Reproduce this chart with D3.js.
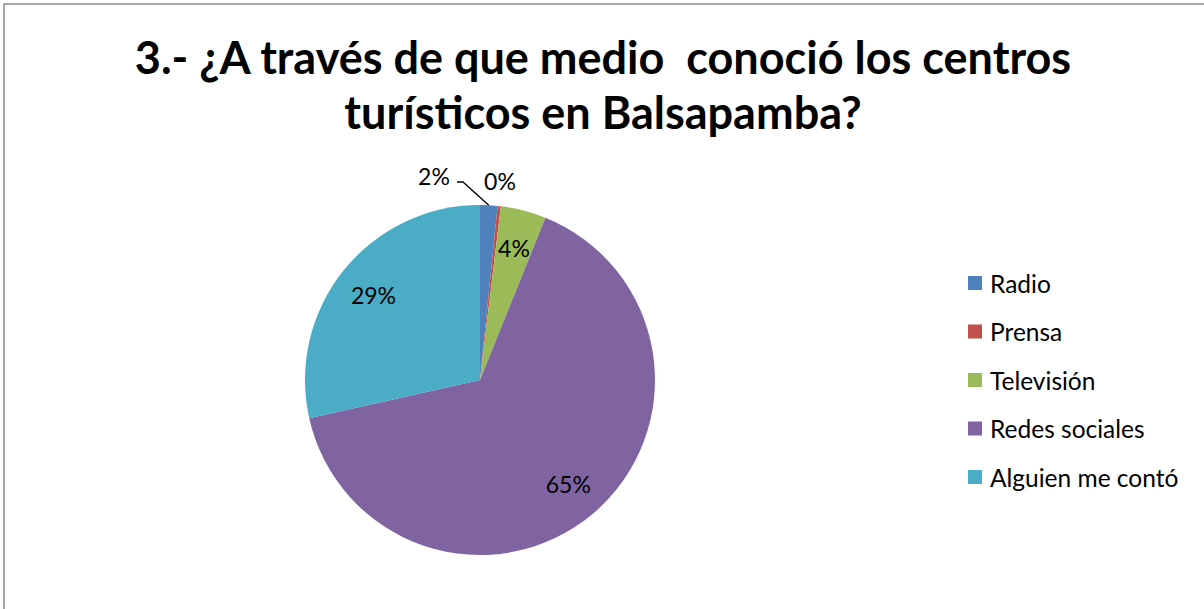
<!DOCTYPE html>
<html>
<head>
<meta charset="utf-8">
<script src="https://cdn.jsdelivr.net/npm/d3@7"></script>
<style>
  html, body { margin: 0; padding: 0; background: #fff; }
  svg { display: block; }
  text { font-family: Lato, "Open Sans", "DejaVu Sans", sans-serif; fill: #000; white-space: pre; }
</style>
</head>
<body>
<svg id="chart" width="1204" height="609"></svg>
<script>
// Survey question 3: how respondents learned about the tourist centres
const titleLines = ["3.- ¿A través de que medio  conoció los centros", "turísticos en Balsapamba?"];
const categories = ["Radio", "Prensa", "Televisión", "Redes sociales", "Alguien me contó"];
const shares = [1.6, 0.3, 4.2, 65.4, 28.5];
const labels = ["2%", "0%", "4%", "65%", "29%"];
const colors = ["#4F81BD", "#C0504D", "#9BBB59", "#8064A2", "#4BACC6"];

const data = categories.map((c, i) => ({ name: c, value: shares[i], label: labels[i], color: colors[i] }));

const svg = d3.select("#chart");

// outer chart frame (left and top edges visible)
svg.append("rect")
  .attr("x", 4).attr("y", 4)
  .attr("width", 1240).attr("height", 640)
  .attr("fill", "#fff")
  .attr("stroke", "#8c8c8c").attr("stroke-width", 1.5);

// title
svg.append("g").selectAll("text")
  .data(titleLines)
  .join("text")
  .attr("x", 603)
  .attr("y", (d, i) => 74 + i * 55)
  .attr("text-anchor", "middle")
  .attr("font-size", 45)
  .attr("font-weight", 700)
  .text(d => d);

// pie
const cx = 480, cy = 380, r = 175;
const pie = d3.pie().value(d => d.value).sort(null);
const arc = d3.arc().innerRadius(0).outerRadius(r);
const arcs = pie(data);

const g = svg.append("g").attr("transform", `translate(${cx},${cy})`);
g.selectAll("path")
  .data(arcs)
  .join("path")
  .attr("d", arc)
  .attr("fill", d => d.data.color);

// data labels: larger slices inside, the two tiny slices above the pie
const inside = d3.arc().innerRadius(r * 0.78).outerRadius(r * 0.78);
const outsideOffsets = { "Radio": [-46, -204], "Prensa": [20, -199] };
arcs.forEach(a => {
  const p = outsideOffsets[a.data.name] || inside.centroid(a);
  g.append("text")
    .attr("x", p[0]).attr("y", p[1])
    .attr("text-anchor", "middle")
    .attr("dominant-baseline", "central")
    .attr("font-size", 23)
    .text(a.data.label);
});

// leader line for the Radio label
const radioArc = arcs[0];
const edge = d3.arc().innerRadius(r).outerRadius(r).centroid(radioArc);
g.append("path")
  .attr("d", d3.line()([[-23, -198], [-17, -198], [edge[0], edge[1]]]))
  .attr("fill", "none")
  .attr("stroke", "#000")
  .attr("stroke-width", 1.3);

// legend
const legend = svg.append("g").attr("transform", "translate(968,283)");
const rows = legend.selectAll("g")
  .data(data)
  .join("g")
  .attr("transform", (d, i) => `translate(0,${i * 48.5})`);
rows.append("rect")
  .attr("x", 0).attr("y", -7)
  .attr("width", 14).attr("height", 14)
  .attr("fill", d => d.color);
rows.append("text")
  .attr("x", 22).attr("y", 0)
  .attr("dominant-baseline", "central")
  .attr("font-size", 24.5)
  .text(d => d.name);
</script>
</body>
</html>
